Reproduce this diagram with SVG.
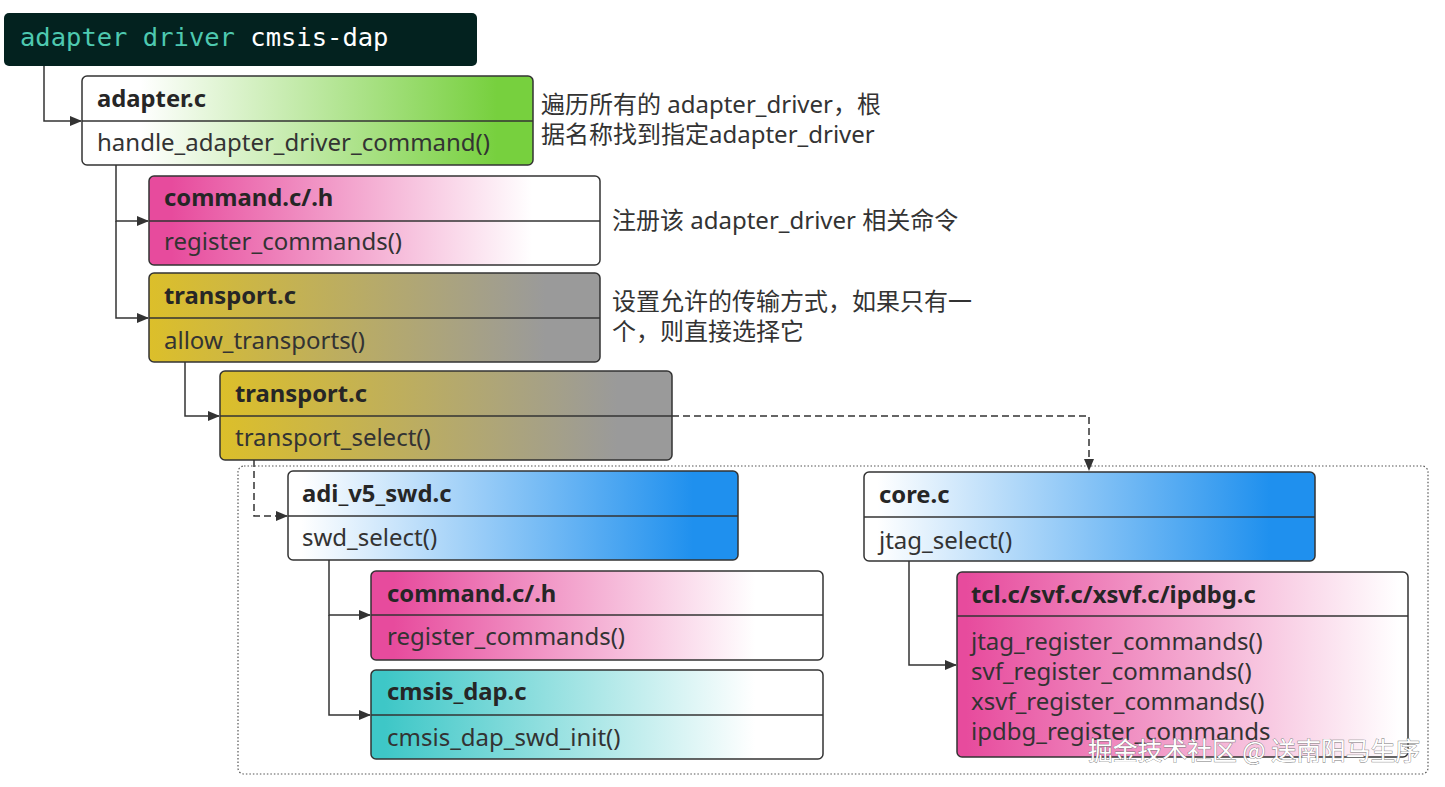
<svg xmlns="http://www.w3.org/2000/svg" width="1445" height="787" viewBox="0 0 1445 787">
<style>
.box{stroke:#333;stroke-width:1.5}
.div{stroke:#333;stroke-width:1.5}
.t{font-family:"Noto Sans","Open Sans",sans-serif;font-size:23.8px;font-weight:bold;fill:#262626}
.b{font-family:"Noto Sans","Open Sans",sans-serif;font-size:24px;fill:#333}
.n{font-family:"Noto Sans","Noto Sans CJK SC",sans-serif;font-size:24px;fill:#333}
.c{stroke:#333;stroke-width:1.5;fill:none}
.d{stroke:#333;stroke-width:1.5;fill:none;stroke-dasharray:7 4}
</style>
<defs>
<linearGradient id="gGreen" x1="0" y1="0" x2="1" y2="0"><stop offset="0.13" stop-color="#fff"/><stop offset="0.92" stop-color="#77d03e"/></linearGradient>
<linearGradient id="gPink" x1="0" y1="0" x2="1" y2="0"><stop offset="0.05" stop-color="#e74b9d"/><stop offset="0.85" stop-color="#fff"/></linearGradient>
<linearGradient id="gPink2" x1="0" y1="0" x2="1" y2="0"><stop offset="0.02" stop-color="#e74b9d"/><stop offset="0.98" stop-color="#fff"/></linearGradient>
<linearGradient id="gYel" x1="0" y1="0" x2="1" y2="0"><stop offset="0" stop-color="#dcbf2a"/><stop offset="0.88" stop-color="#9a9a9a"/></linearGradient>
<linearGradient id="gBlue" x1="0" y1="0" x2="1" y2="0"><stop offset="0.03" stop-color="#fff"/><stop offset="0.9" stop-color="#1f90ee"/></linearGradient>
<linearGradient id="gTeal" x1="0" y1="0" x2="1" y2="0"><stop offset="0.03" stop-color="#3ec7c7"/><stop offset="0.85" stop-color="#fff"/></linearGradient>
<marker id="arr" markerWidth="12" markerHeight="10" refX="11" refY="5" orient="auto" markerUnits="userSpaceOnUse"><path d="M0,0 L12,5 L0,10 Z" fill="#333"/></marker>
</defs>
<rect width="1445" height="787" fill="#fff"/>

<rect x="238" y="466" width="1190" height="308" rx="6" fill="none" stroke="#555" stroke-width="1.2" stroke-dasharray="1.5 2"/>

<g id="connectors">
<path class="c" d="M44,66 V121 H81" marker-end="url(#arr)"/>
<path class="c" d="M116,165 V221 H148" marker-end="url(#arr)"/>
<path class="c" d="M116,221 V318 H148" marker-end="url(#arr)"/>
<path class="c" d="M185,362 V416 H219" marker-end="url(#arr)"/>
<path class="d" d="M672,416 H1089 V470" marker-end="url(#arr)"/>
<path class="d" d="M254,460 V516 H287" marker-end="url(#arr)"/>
<path class="c" d="M329,560 V615 H370" marker-end="url(#arr)"/>
<path class="c" d="M329,615 V715 H370" marker-end="url(#arr)"/>
<path class="c" d="M909,561 V665 H956" marker-end="url(#arr)"/>
</g>

<g id="title">
<rect x="4" y="13" width="473" height="53" rx="5" fill="#03221f"/>
<text x="20" y="46" font-family="DejaVu Sans Mono,monospace" font-size="25.5px"><tspan fill="#4ec9b0">adapter driver </tspan><tspan fill="#fff">cmsis-dap</tspan></text>
</g>

<g id="adapter">
<rect class="box" x="82" y="76" width="451" height="89" rx="5" fill="url(#gGreen)"/>
<line class="div" x1="82" y1="121" x2="533" y2="121"/>
<text class="t" x="97" y="107">adapter.c</text>
<text class="b" x="97" y="151">handle_adapter_driver_command()</text>
</g>
<g id="note1">
<text class="n" x="541" y="113">遍历所有的 adapter_driver，根</text>
<text class="n" x="541" y="143">据名称找到指定adapter_driver</text>
</g>

<g id="command1">
<rect class="box" x="149" y="176" width="451" height="89" rx="5" fill="url(#gPink)"/>
<line class="div" x1="149" y1="221" x2="600" y2="221"/>
<text class="t" x="164" y="206">command.c/.h</text>
<text class="b" x="164" y="250">register_commands()</text>
</g>
<g id="note2">
<text class="n" x="612" y="229">注册该 adapter_driver 相关命令</text>
</g>

<g id="transport1">
<rect class="box" x="149" y="273" width="451" height="89" rx="5" fill="url(#gYel)"/>
<line class="div" x1="149" y1="318" x2="600" y2="318"/>
<text class="t" x="164" y="304">transport.c</text>
<text class="b" x="164" y="349">allow_transports()</text>
</g>
<g id="note3">
<text class="n" x="612" y="310">设置允许的传输方式，如果只有一</text>
<text class="n" x="612" y="340">个，则直接选择它</text>
</g>

<g id="transport2">
<rect class="box" x="220" y="371" width="452" height="89" rx="5" fill="url(#gYel)"/>
<line class="div" x1="220" y1="416" x2="672" y2="416"/>
<text class="t" x="235" y="402">transport.c</text>
<text class="b" x="235" y="446">transport_select()</text>
</g>

<g id="adi">
<rect class="box" x="288" y="471" width="450" height="89" rx="5" fill="url(#gBlue)"/>
<line class="div" x1="288" y1="516" x2="738" y2="516"/>
<text class="t" x="302" y="502">adi_v5_swd.c</text>
<text class="b" x="302" y="546">swd_select()</text>
</g>

<g id="command2">
<rect class="box" x="371" y="571" width="452" height="89" rx="5" fill="url(#gPink)"/>
<line class="div" x1="371" y1="615" x2="823" y2="615"/>
<text class="t" x="387" y="602">command.c/.h</text>
<text class="b" x="387" y="645">register_commands()</text>
</g>

<g id="cmsisdap">
<rect class="box" x="371" y="670" width="452" height="89" rx="5" fill="url(#gTeal)"/>
<line class="div" x1="371" y1="715" x2="823" y2="715"/>
<text class="t" x="387" y="700">cmsis_dap.c</text>
<text class="b" x="387" y="746">cmsis_dap_swd_init()</text>
</g>

<g id="core">
<rect class="box" x="864" y="472" width="451" height="89" rx="5" fill="url(#gBlue)"/>
<line class="div" x1="864" y1="517" x2="1315" y2="517"/>
<text class="t" x="879" y="503">core.c</text>
<text class="b" x="879" y="549">jtag_select()</text>
</g>

<g id="tcl">
<rect class="box" x="957" y="572" width="451" height="185" rx="5" fill="url(#gPink2)"/>
<line class="div" x1="957" y1="616" x2="1408" y2="616"/>
<text class="t" x="971" y="603">tcl.c/svf.c/xsvf.c/ipdbg.c</text>
<text class="b" x="971" y="650">jtag_register_commands()</text>
<text class="b" x="971" y="680">svf_register_commands()</text>
<text class="b" x="971" y="710">xsvf_register_commands()</text>
<text class="b" x="971" y="740">ipdbg_register_commands</text>
</g>

<text x="1088" y="760" font-family="Noto Sans CJK SC,sans-serif" font-size="24.8px" fill="#fff" stroke="#777" stroke-width="0.8" paint-order="stroke">掘金技术社区 @ 送南阳马生序</text>
</svg>
